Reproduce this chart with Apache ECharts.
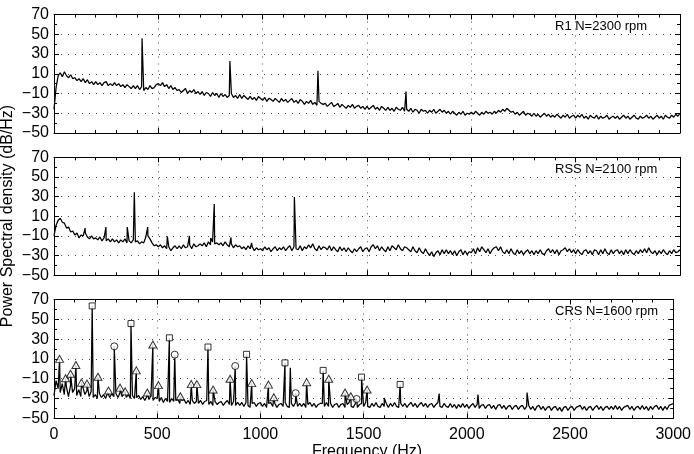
<!DOCTYPE html>
<html>
<head>
<meta charset="utf-8">
<script src="https://cdn.jsdelivr.net/npm/echarts@6/dist/echarts.min.js"></script>
<style>html,body{margin:0;padding:0;background:#fff}#c{width:694px;height:454px}</style>
</head>
<body>
<div id="c"></div>
<script>
// ---------- DATA ----------
const freqStep = 10; // Hz between base samples (0..3000)
const yTicks = [-50, -30, -10, 10, 30, 50, 70];
const xTicks = [0, 500, 1000, 1500, 2000, 2500, 3000];
const panelLabels = ['R1 N=2300 rpm', 'RSS N=2100 rpm', 'CRS N=1600 rpm'];

// Panel 1 (R1) base spectrum, dB/Hz, every 10 Hz
const r1Base = [
 -26,-4,8,11,7,12,8,6,9,5,
 6,3,5,2,5,1,4,0,2,-1,
 2,-1,1,-2,1,2,-2,0,-2,1,
 -2,0,-3,-1,-4,-1,-3,-5,-2,-5,
 -2,-6,-3,-7,-4,-6,-2,-5,-4,-1,
 0,-2,1,-3,-1,-5,-2,-6,-4,-7,
 -6,-9,-7,-5,-10,-7,-9,-6,-10,-8,
 -11,-8,-12,-9,-10,-13,-9,-12,-10,-14,
 -10,-13,-11,-14,-12,-10,-14,-12,-15,-11,
 -15,-12,-14,-16,-13,-16,-14,-17,-13,-15,
 -17,-14,-18,-15,-16,-18,-15,-17,-19,-15,
 -18,-16,-19,-17,-15,-19,-17,-20,-16,-18,
 -21,-18,-20,-17,-21,-19,-22,-18,-20,-21,
 -20,-23,-21,-19,-23,-22,-20,-24,-21,-23,
 -25,-22,-24,-21,-25,-23,-22,-25,-23,-26,
 -23,-26,-24,-22,-26,-24,-27,-23,-25,-27,
 -24,-27,-25,-28,-24,-26,-27,-24,-28,-26,
 -28,-25,-29,-26,-27,-30,-26,-28,-27,-30,
 -27,-29,-26,-30,-28,-26,-29,-27,-30,-28,
 -31,-28,-30,-32,-29,-31,-28,-32,-30,-31,
 -29,-31,-28,-30,-32,-29,-31,-28,-30,-29,
 -31,-28,-30,-27,-29,-26,-28,-25,-27,-29,
 -28,-31,-29,-32,-30,-28,-32,-30,-31,-33,
 -30,-33,-31,-34,-32,-30,-33,-31,-34,-32,
 -34,-31,-33,-35,-32,-34,-31,-35,-33,-32,
 -35,-32,-34,-31,-35,-33,-36,-32,-34,-35,
 -32,-36,-33,-35,-34,-32,-36,-34,-33,-35,
 -33,-36,-34,-32,-35,-33,-36,-34,-32,-35,
 -36,-33,-35,-34,-32,-35,-33,-36,-34,-32,
 -35,-33,-36,-32,-34,-35,-32,-34,-31,-33,
 -30
];
const r1Spikes = [[422, 46], [843, 23], [1265, 13], [1687, -8]];

// Panel 2 (RSS)
const rssBase = [
 -10,1,6,8,4,3,-2,-1,-6,-5,
 -9,-7,-12,-9,-10,-7,-11,-13,-10,-13,
 -12,-14,-11,-15,-12,-15,-13,-16,-13,-16,
 -14,-17,-14,-16,-13,-17,-15,-17,-14,-16,
 -15,-18,-16,-17,-11,-10,-13,-17,-20,-19,
 -21,-19,-22,-20,-23,-21,-25,-22,-20,-23,
 -20,-23,-19,-22,-21,-19,-23,-18,-21,-20,
 -18,-20,-17,-21,-16,-19,-16,-18,-17,-19,
 -17,-20,-16,-19,-21,-18,-22,-19,-21,-20,
 -23,-21,-24,-20,-23,-21,-25,-22,-24,-23,
 -25,-21,-24,-22,-26,-23,-21,-25,-22,-24,
 -21,-25,-22,-20,-25,-21,-23,-24,-20,-25,
 -21,-23,-19,-22,-18,-23,-25,-20,-24,-21,
 -22,-24,-20,-25,-21,-24,-26,-21,-25,-22,
 -26,-22,-25,-27,-23,-26,-23,-21,-26,-23,
 -22,-26,-21,-19,-23,-20,-25,-21,-24,-26,
 -21,-25,-20,-22,-24,-19,-23,-25,-21,-22,
 -24,-26,-21,-25,-27,-22,-26,-28,-23,-27,
 -30,-26,-31,-27,-25,-29,-24,-28,-24,-28,
 -25,-29,-25,-30,-26,-24,-29,-25,-29,-26,
 -27,-23,-28,-22,-26,-21,-24,-27,-23,-28,
 -24,-22,-21,-25,-21,-26,-28,-24,-28,-23,
 -27,-29,-24,-28,-25,-29,-26,-24,-28,-25,
 -29,-25,-28,-24,-28,-29,-25,-23,-27,-24,
 -28,-24,-29,-25,-24,-22,-26,-23,-27,-24,
 -28,-24,-27,-29,-25,-24,-28,-25,-29,-24,
 -25,-29,-24,-28,-23,-27,-29,-24,-28,-25,
 -24,-28,-25,-29,-24,-28,-24,-27,-29,-25,
 -28,-24,-27,-23,-27,-22,-26,-28,-25,-29,
 -25,-28,-24,-27,-29,-25,-28,-24,-27,-26,
 -24
];
const rssSpikes = [[149, -2], [249, -1], [351, -1], [385, 34.5], [449, -1], [543, -10.5],
 [649, -10], [751, -12], [768, 22.4], [848, -11.5], [947, -17], [1152, 29.5], [1243, -17],
 [1538, -18], [2057, -20.5]];

// Panel 3 (CRS)
const crsBase = [
 -27,-12,-20,-24,-15,-26,-18,-28,-17,-24,
 -20,-27,-21,-28,-19,-26,-22,-28,-23,-29,
 -26,-30,-25,-29,-26,-30,-24,-29,-25,-28,
 -25,-29,-24,-28,-25,-29,-26,-30,-27,-30,
 -29,-27,-31,-28,-32,-28,-31,-27,-32,-29,
 -30,-33,-29,-34,-30,-33,-34,-30,-33,-32,
 -31,-35,-32,-31,-35,-32,-36,-32,-35,-33,
 -35,-32,-36,-33,-32,-36,-33,-37,-33,-36,
 -34,-33,-37,-34,-32,-36,-37,-33,-37,-34,
 -37,-34,-38,-34,-37,-39,-35,-34,-38,-35,
 -34,-38,-35,-39,-35,-34,-38,-35,-39,-36,
 -35,-38,-34,-38,-39,-35,-38,-34,-38,-35,
 -38,-35,-39,-36,-34,-38,-35,-39,-36,-35,
 -35,-38,-34,-38,-35,-39,-36,-35,-39,-36,
 -35,-39,-36,-34,-38,-39,-35,-39,-36,-35,
 -38,-34,-38,-39,-35,-38,-34,-38,-39,-35,
 -38,-35,-39,-35,-38,-34,-38,-39,-35,-38,
 -35,-39,-36,-34,-38,-35,-39,-36,-34,-38,
 -35,-39,-36,-35,-39,-36,-34,-38,-39,-35,
 -38,-39,-35,-39,-36,-40,-36,-39,-35,-39,
 -36,-40,-37,-35,-39,-36,-40,-37,-36,-40,
 -37,-36,-40,-37,-41,-37,-36,-40,-37,-41,
 -38,-37,-41,-38,-37,-41,-38,-37,-41,-38,
 -37,-41,-38,-42,-38,-37,-41,-38,-42,-39,
 -38,-42,-39,-38,-42,-39,-43,-39,-38,-42,
 -39,-38,-42,-39,-38,-37,-41,-38,-42,-39,
 -38,-42,-39,-37,-41,-38,-42,-39,-38,-41,
 -38,-41,-37,-41,-38,-42,-39,-38,-37,-41,
 -38,-42,-39,-38,-41,-37,-41,-38,-42,-38,
 -41,-38,-37,-41,-38,-42,-38,-41,-37,-36,
 -35
];
const crsSquares = [[185, 63.5], [373, 45.7], [559, 31.3], [746, 22], [933, 14.6], [1119, 6],
 [1304, -1.6], [1490, -8.4], [1677, -15.8]];
const crsCircles = [[292, 22.7], [585, 14.3], [878, 2.8], [1171, -24.6], [1466, -30.5]];
const crsTriangles = [[27, 10], [56, -9.6], [80, -5], [106, 3.8], [133, -14], [160, -15],
 [213, -8], [264, -22], [320, -19], [345, -22.8], [399, -1.6], [452, -24], [479, 24.5],
 [506, -16.5], [612, -27.8], [665, -15.5], [692, -15.5], [771, -21], [853, -10], [958, -14.5],
 [1039, -16], [1065, -28.8], [1224, -13.5], [1331, -10], [1410, -24], [1438, -27.8], [1517, -21]];
const crsPlainSpikes = [[1145, 1], [1600, -29.5], [1866, -25], [2054, -26], [2292, -24]];

// ---------- BUILD ----------
function buildLine(base, spikeLists) {
  const pts = base.map((v, i) => [i * freqStep, v]);
  spikeLists.forEach(list => list.forEach(p => pts.push([p[0], p[1]])));
  pts.sort((a, b) => a[0] - b[0]);
  return pts;
}
const lines = [
  buildLine(r1Base, [r1Spikes]),
  buildLine(rssBase, [rssSpikes]),
  buildLine(crsBase, [crsSquares, crsCircles, crsTriangles, crsPlainSpikes])
];

const FONT = 'Liberation Sans, Arial, sans-serif';
const grids = [
  { left: 54, right: 14, top: 14.5, height: 118.5 },
  { left: 54, right: 14, top: 157.3, height: 118 },
  { left: 54, right: 14, top: 299.5, height: 118.8 }
];
const dotted = { color: '#444', width: 1, type: [1, 6] };
const minus = v => String(v).replace('-', '\u2212');
const frameLine = { show: true, onZero: false, lineStyle: { color: '#000', width: 1 } };
const tickIn = { show: true, inside: true, length: 5, lineStyle: { color: '#000' } };

const xAxis = [], yAxis = [], series = [];
grids.forEach((g, i) => {
  xAxis.push({
    type: 'value', gridIndex: i, position: 'bottom', min: xTicks[0], max: xTicks[xTicks.length - 1], interval: 500,
    axisLine: frameLine, axisTick: tickIn,
    minorTick: { show: true, splitNumber: 5, length: 3, lineStyle: { color: '#000' } },
    splitLine: { show: true, lineStyle: dotted },
    axisLabel: { show: i === 2, margin: 8, color: '#000', fontSize: 16, fontFamily: FONT, formatter: v => String(v) }
  });
  yAxis.push({
    type: 'value', gridIndex: i, position: 'left', min: yTicks[0], max: yTicks[yTicks.length - 1], interval: 20,
    axisLine: frameLine, axisTick: tickIn,
    minorTick: { show: true, splitNumber: 2, length: 3, lineStyle: { color: '#000' } },
    splitLine: { show: true, lineStyle: dotted },
    axisLabel: { margin: 5, color: '#000', fontSize: 16, fontFamily: FONT, formatter: minus }
  });
});
grids.forEach((g, i) => {
  xAxis.push({
    type: 'value', gridIndex: i, position: 'top', min: xTicks[0], max: xTicks[xTicks.length - 1], interval: 500,
    axisLine: frameLine, axisTick: tickIn,
    minorTick: { show: true, splitNumber: 5, length: 3, lineStyle: { color: '#000' } },
    splitLine: { show: false }, axisLabel: { show: false }
  });
  yAxis.push({
    type: 'value', gridIndex: i, position: 'right', min: yTicks[0], max: yTicks[yTicks.length - 1], interval: 20,
    axisLine: frameLine, axisTick: tickIn,
    minorTick: { show: true, splitNumber: 2, length: 3, lineStyle: { color: '#000' } },
    splitLine: { show: false }, axisLabel: { show: false }
  });
});

lines.forEach((d, i) => {
  series.push({
    type: 'line', xAxisIndex: i, yAxisIndex: i, data: d, showSymbol: false, symbol: 'none',
    sampling: null, lineStyle: { color: '#000', width: 1.25 }, z: 3, silent: true
  });
});
const markerStyle = { color: '#fff', borderColor: '#000', borderWidth: 1 };
series.push({ type: 'scatter', xAxisIndex: 2, yAxisIndex: 2, data: crsSquares, symbol: 'rect', symbolSize: 6, itemStyle: markerStyle, z: 5 });
series.push({ type: 'scatter', xAxisIndex: 2, yAxisIndex: 2, data: crsCircles, symbol: 'circle', symbolSize: 7, itemStyle: markerStyle, z: 5 });
series.push({ type: 'scatter', xAxisIndex: 2, yAxisIndex: 2, data: crsTriangles, symbol: 'triangle', symbolSize: [8, 7], itemStyle: markerStyle, z: 5 });

const labelY = [27, 170.7, 312.7];
const graphic = panelLabels.map((t, i) => ({
  type: 'text', left: 555, top: labelY[i] - 7.5,
  style: { text: t, fontSize: 13, fontFamily: FONT, fill: '#000' }
}));
graphic.push({
  type: 'text', x: 8, y: 216, rotation: Math.PI / 2,
  style: { text: 'Power Spectral density (dB/Hz)', fontSize: 16, fontFamily: FONT, fill: '#000',
    align: 'center', verticalAlign: 'middle' }
});
graphic.push({
  type: 'text', x: 367, y: 452,
  style: { text: 'Frequency (Hz)', fontSize: 16, fontFamily: FONT, fill: '#000',
    align: 'center', verticalAlign: 'middle' }
});

const chart = echarts.init(document.getElementById('c'), null, { renderer: 'canvas' });
chart.setOption({
  animation: false, backgroundColor: '#fff',
  grid: grids, xAxis, yAxis, series, graphic
});
</script>
</body>
</html>
